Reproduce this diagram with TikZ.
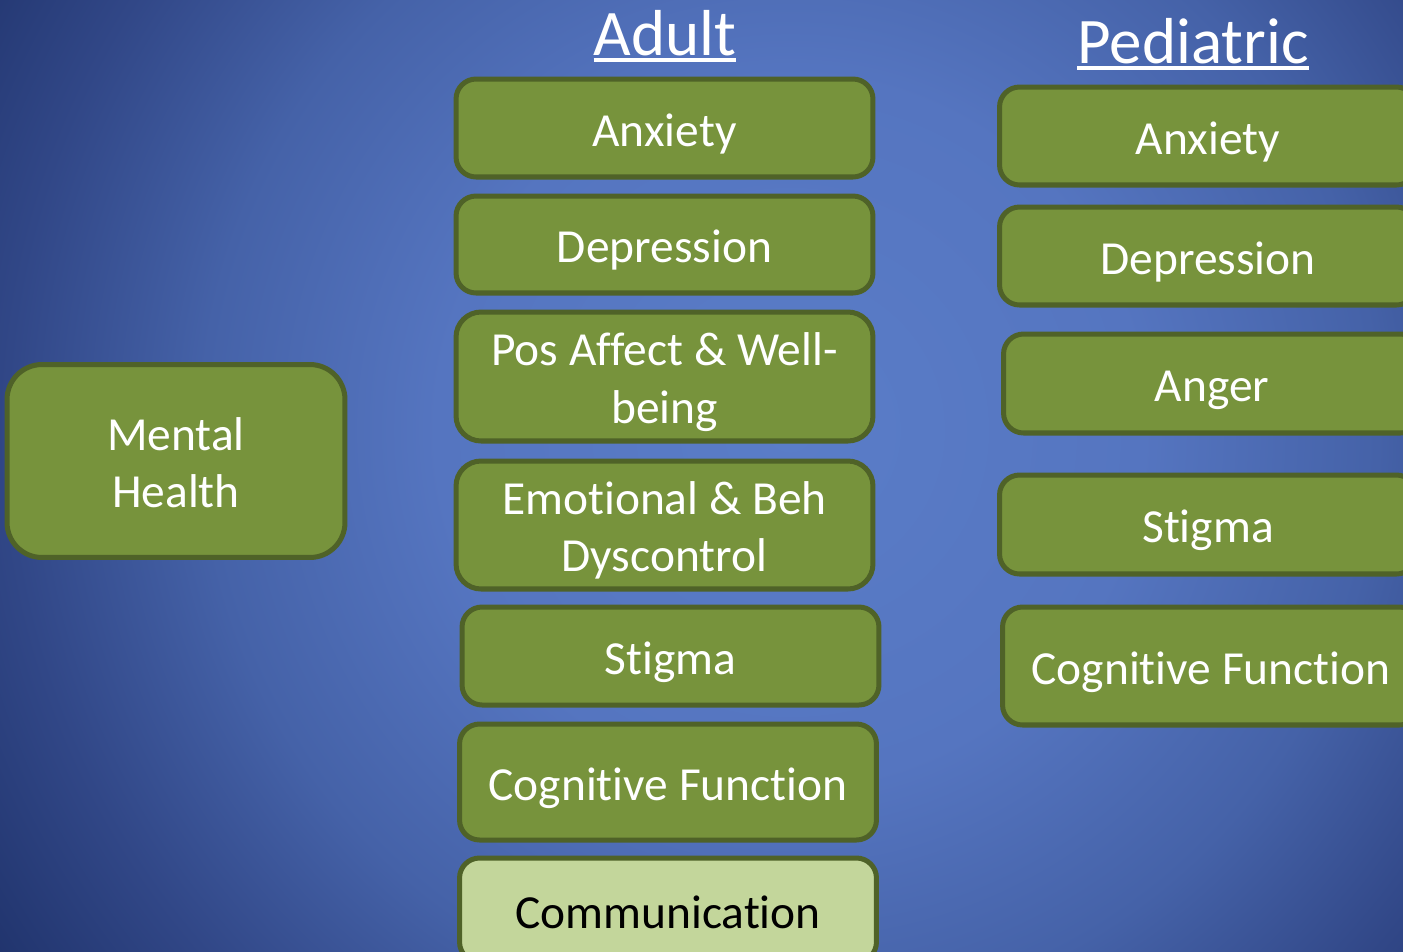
\documentclass[tikz,border=0pt]{standalone}
\usepackage{fontspec}
\setmainfont{Carlito}[RawFeature={-liga;-clig;-calt;-dlig}]
\usepackage{tikz}
\usetikzlibrary{positioning}

\definecolor{boxgreen}{HTML}{77933C}
\definecolor{boxedge}{HTML}{4F6228}
\definecolor{boxlight}{HTML}{C3D69B}
\definecolor{bglight}{HTML}{5A7DC8}
\definecolor{bgmid}{HTML}{5575C0}
\definecolor{bgedge}{HTML}{4562A8}
\definecolor{bgdeep}{HTML}{314787}
\definecolor{bgdark}{HTML}{1E3169}

\pgfdeclareradialshading{bgglow}{\pgfpoint{0bp}{0bp}}{color(0bp)=(bglight); color(9bp)=(bgmid); color(15bp)=(bgedge); color(20bp)=(bgdeep); color(25bp)=(bgdark); color(50bp)=(bgdark)}

\newcommand{\mstrut}{\rule[-0.2em]{0pt}{1.16em}}
\newcommand{\ulinetitle}[1]{\sbox0{#1}\rlap{\rule[-0.11em]{\wd0}{0.06em}}\usebox0}

\begin{document}
\begin{tikzpicture}[x=0.02cm, y=-0.02cm,
    measurebox/.style={draw=boxedge, line width=2.85pt, fill=boxgreen, rounded corners=0.4cm,
        text=white, font=\fontsize{27}{32.5}\selectfont, align=center, inner sep=0pt,
        minimum width=8.34cm, minimum height=1.96cm,
        execute at begin node=\mstrut, execute at end node=\mstrut},
    twoline/.style={text width=#1, align=flush center, rounded corners=0.5cm},
    heading/.style={text=white, font=\fontsize{37}{44}\selectfont, anchor=base, inner sep=0pt}]

    % Background
    \useasboundingbox (0,0) rectangle (1403,951);
    \clip (0,0) rectangle (1403,951);
    \fill[bgdark] (0,0) rectangle (1403,951);
    \shade[shading=bgglow] (790,430) circle (19.6cm);

    % Column headings
    \node[heading] (adult) at (665,55) {\ulinetitle{Adult}};
    \node[heading] (pediatric) at (1193,63) {\ulinetitle{Pediatric}};

    % Domain
    \node[measurebox, twoline=6cm, rounded corners=0.7cm, minimum width=6.76cm, minimum height=3.86cm] (mental) at (176,461) {Mental\\Health};

    % Adult measures
    \node[measurebox] (adultAnx) at (664.5,128) {Anxiety};
    \node[measurebox, minimum height=1.94cm] (adultDep) at (664.5,244.5) {Depression};
    \node[measurebox, twoline=7.6cm, minimum height=2.58cm] (adultPos) at (664.5,376.5) {Pos Affect \& Well-\\being};
    \node[measurebox, twoline=7.6cm, minimum height=2.56cm] (adultEmo) at (664.5,525) {Emotional \& Beh\\Dyscontrol};
    \node[measurebox] (adultStig) at (670.5,656) {Stigma};
    \node[measurebox, minimum height=2.32cm] (adultCog) at (668,782) {Cognitive Function};
    \node[measurebox, fill=boxlight, text=black, minimum height=2.08cm] (adultCom) at (668,910) {Communication};

    % Pediatric measures
    \node[measurebox] (pedAnx) at (1208,136) {Anxiety};
    \node[measurebox] (pedDep) at (1208,256) {Depression};
    \node[measurebox, minimum height=1.98cm] (pedAng) at (1212,383.5) {Anger};
    \node[measurebox, minimum height=1.98cm] (pedStig) at (1208,524.5) {Stigma};
    \node[measurebox, minimum height=2.36cm] (pedCog) at (1211,666) {Cognitive Function};
\end{tikzpicture}
\end{document}
